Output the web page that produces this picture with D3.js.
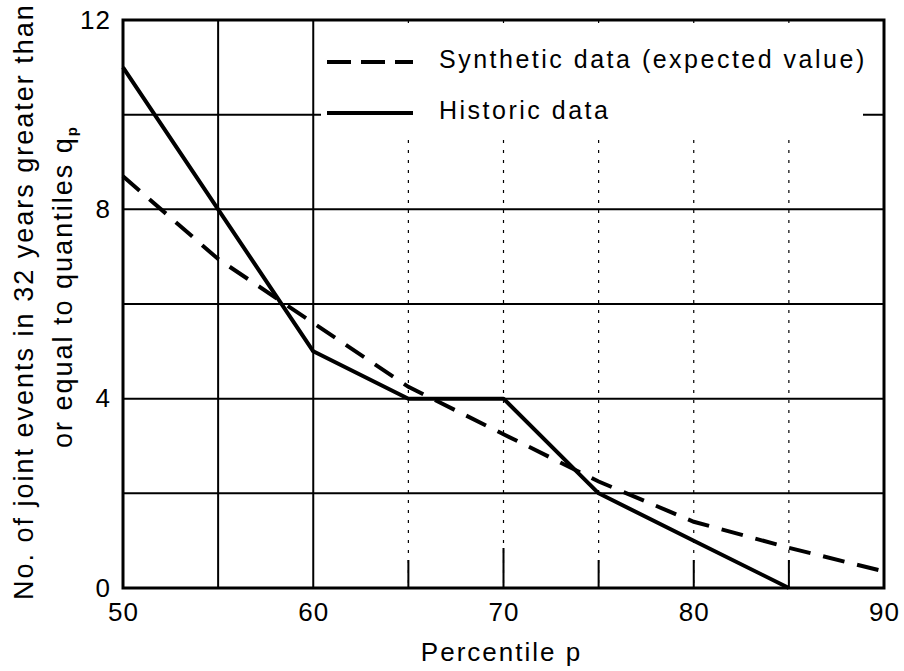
<!DOCTYPE html>
<html>
<head>
<meta charset="utf-8">
<script src="https://cdn.jsdelivr.net/npm/d3@7"></script>
<style>
  body { margin: 0; background: #fff; }
  svg { display: block; font-family: "Liberation Sans", Arial, Helvetica, sans-serif; }
</style>
</head>
<body>
<figure id="chart" style="margin:0"></figure>
<script>
// percentile p vs. number of joint events
const historicP = [50, 55, 60, 65, 70, 75, 80, 85];
const historicVals = [11, 8, 5, 4, 4, 2, 1, 0];
const syntheticP = [50, 55, 60, 65, 70, 75, 80, 85, 90];
const syntheticVals = [8.7, 6.95, 5.6, 4.25, 3.25, 2.25, 1.4, 0.85, 0.35];
const xGrid = [55, 60, 65, 70, 75, 80, 85];
const yGrid = [2, 4, 6, 8, 10];
const xTickLabels = [50, 60, 70, 80, 90];
const yTickLabels = [0, 4, 8, 12];

const W = 904, H = 671;
const margin = { top: 20, left: 123, right: 20, bottom: 83 };
const width = W - margin.left - margin.right;
const height = H - margin.top - margin.bottom;

const svg = d3.select("figure#chart")
  .append("svg")
  .attr("width", W)
  .attr("height", H);

const g = svg.append("g")
  .attr("transform", "translate(" + margin.left + "," + margin.top + ")");

const x = d3.scaleLinear().domain([50, 90]).range([0, width]);
const y = d3.scaleLinear().domain([0, 12]).range([height, 0]);

// grid lines
g.selectAll(".vgrid")
  .data(xGrid)
  .enter()
  .append("line")
  .attr("x1", d => x(d)).attr("x2", d => x(d))
  .attr("y1", 0).attr("y2", height)
  .attr("stroke", "#000")
  .attr("stroke-width", d => d <= 60 ? 2 : 1.2)
  .attr("stroke-dasharray", d => d <= 60 ? null : "3,7");

// solid stubs at the foot of the dotted verticals
g.selectAll(".vstub")
  .data(xGrid.filter(d => d > 60))
  .enter()
  .append("line")
  .attr("x1", d => x(d)).attr("x2", d => x(d))
  .attr("y1", d => d === 70 ? height - 40 : height - 28).attr("y2", height)
  .attr("stroke", "#000")
  .attr("stroke-width", 2);

g.selectAll(".hgrid")
  .data(yGrid)
  .enter()
  .append("line")
  .attr("x1", 0).attr("x2", width)
  .attr("y1", d => y(d)).attr("y2", d => y(d))
  .attr("stroke", "#000")
  .attr("stroke-width", 2);

// legend background hides the grid behind it
g.append("rect")
  .attr("x", 198).attr("y", 3)
  .attr("width", 542).attr("height", 115)
  .attr("fill", "#fff");

// frame
g.append("rect")
  .attr("x", 0).attr("y", 0)
  .attr("width", width).attr("height", height)
  .attr("fill", "none")
  .attr("stroke", "#000")
  .attr("stroke-width", 3);

// axes (labels only)
const xAxis = g.append("g")
  .attr("transform", "translate(0," + height + ")")
  .call(d3.axisBottom(x).tickValues(xTickLabels).tickSize(0).tickPadding(15));
xAxis.select(".domain").remove();
xAxis.selectAll("text")
  .attr("fill", "#000")
  .style("font-size", "26px")
  .style("letter-spacing", "1px");

const yAxis = g.append("g")
  .call(d3.axisLeft(y).tickValues(yTickLabels).tickSize(0).tickPadding(12));
yAxis.select(".domain").remove();
yAxis.selectAll("text")
  .attr("fill", "#000")
  .style("font-size", "26px")
  .style("letter-spacing", "1px");

// data lines
const line = d3.line()
  .x(d => x(d[0]))
  .y(d => y(d[1]));

g.append("path")
  .datum(d3.zip(syntheticP, syntheticVals))
  .attr("d", line)
  .attr("fill", "none")
  .attr("stroke", "#000")
  .attr("stroke-width", 4)
  .attr("stroke-dasharray", "22,13");

g.append("path")
  .datum(d3.zip(historicP, historicVals))
  .attr("d", line)
  .attr("fill", "none")
  .attr("stroke", "#000")
  .attr("stroke-width", 4)
  .attr("stroke-linejoin", "round");

// legend
const legend = [
  { label: "Synthetic data (expected value)", dash: "24,10", y: 42 },
  { label: "Historic data", dash: null, y: 93 }
];
legend.forEach(l => {
  g.append("line")
    .attr("x1", 204).attr("x2", 290)
    .attr("y1", l.y).attr("y2", l.y)
    .attr("stroke", "#000")
    .attr("stroke-width", 4)
    .attr("stroke-dasharray", l.dash);
  g.append("text")
    .attr("x", 316).attr("y", l.y + 6)
    .style("font-size", "25px")
    .style("letter-spacing", "2.5px")
    .text(l.label);
});

// axis titles
svg.append("text")
  .attr("x", margin.left + width / 2 - 2)
  .attr("y", 661)
  .attr("text-anchor", "middle")
  .style("font-size", "26px")
  .style("letter-spacing", "2px")
  .text("Percentile p");

const yTitle = svg.append("text")
  .attr("transform", "rotate(-90)")
  .style("font-size", "27px")
  .style("letter-spacing", "2px");
yTitle.append("tspan")
  .attr("x", -600).attr("y", 33)
  .text("No. of joint events in 32 years greater than");
yTitle.append("tspan")
  .attr("x", -448).attr("y", 72)
  .text("or equal to quantiles q");
yTitle.append("tspan")
  .attr("dy", 5)
  .style("font-size", "15px")
  .style("font-weight", "bold")
  .text("p");
</script>
</body>
</html>
